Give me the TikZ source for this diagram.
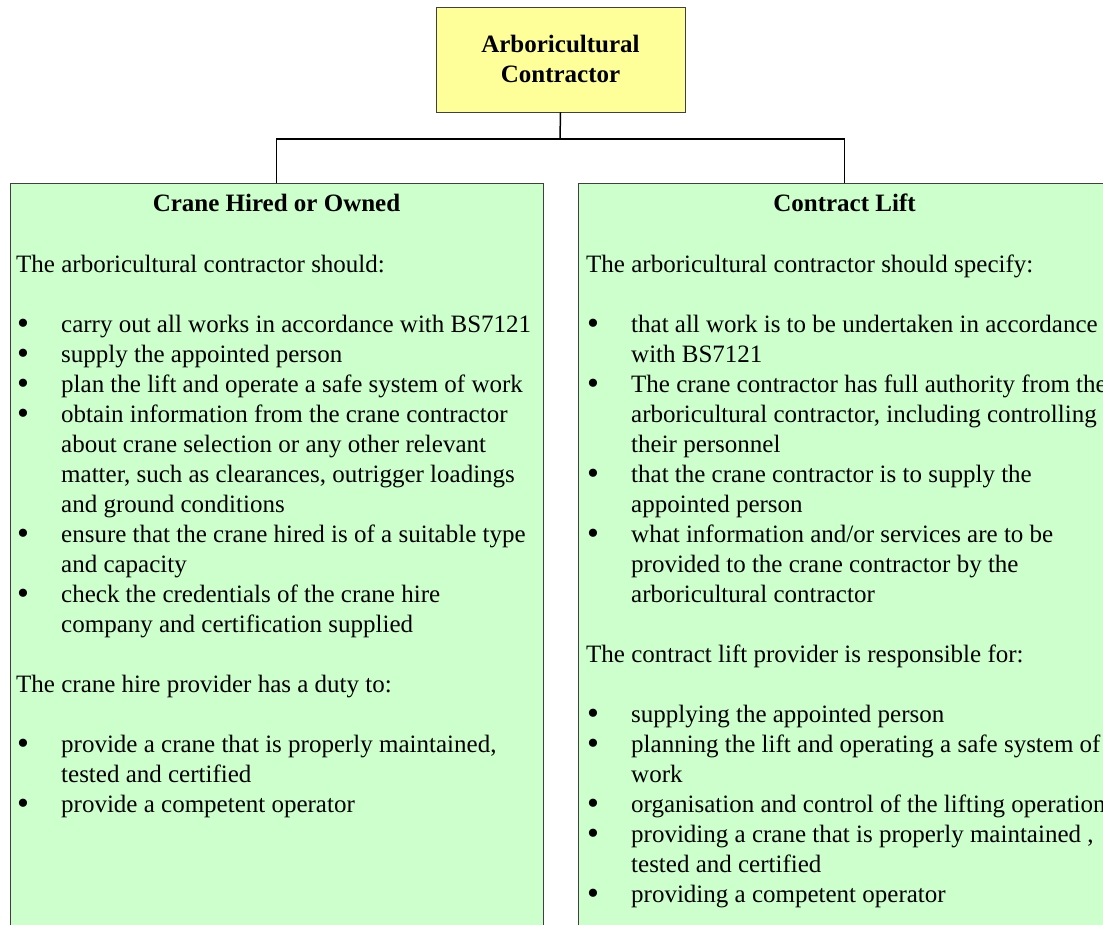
\documentclass[tikz,border=0pt]{standalone}
\usepackage{fontspec}
\setmainfont{Liberation Serif}
\definecolor{boxyellow}{HTML}{FFFF99}
\definecolor{boxgreen}{HTML}{CCFFCC}
\definecolor{boxline}{HTML}{404040}
\newcommand{\bl}{\makebox[45pt][l]{\hspace*{1pt}\raisebox{-2.5pt}{\fontsize{34}{30}\selectfont\textbullet}}}
\newcommand{\ct}{\hspace*{45pt}}
\begin{document}
\begin{tikzpicture}[x=1pt,y=-1pt,
  box/.style={draw=boxline, line width=0.8pt, inner sep=0pt},
  body/.style={anchor=base west, inner sep=0pt, align=left, font=\fontsize{25}{30}\selectfont},
  head/.style={anchor=base, inner sep=0pt, align=center, font=\fontsize{25}{30}\selectfont\bfseries},
  conn/.style={draw=black, line width=1.5pt}]
\useasboundingbox (0,0) rectangle (1103,925);
\clip (0,0) rectangle (1103,925);
% boxes
\node[box, fill=boxyellow, minimum width=249pt, minimum height=105pt] (top) at (560.5,59.5) {};
\node[box, fill=boxgreen, minimum width=533pt, minimum height=770pt] (left) at (276.5,568) {};
\node[box, fill=boxgreen, minimum width=533pt, minimum height=770pt] (right) at (844.5,568) {};
% connectors
\coordinate (bus) at (560,139);
\draw[conn] (top.south) -- (bus);
\draw[conn] (left.north) |- (bus) -| (right.north);
% titles (base anchor = baseline of last line)
\node[head] (toptitle) at (560.5,83) {Arboricultural\\Contractor};
\node[head] (lefthead) at (276.5,212) {Crane Hired or Owned};
\node[head] (righthead) at (844.5,212) {Contract Lift};
% left text
\node[body] (lefttext) at (16,812) {The arboricultural contractor should:\\[30pt]
\bl carry out all works in accordance with BS7121\\
\bl supply the appointed person\\
\bl plan the lift and operate a safe system of work\\
\bl obtain information from the crane contractor\\
\ct about crane selection or any other relevant\\
\ct matter, such as clearances, outrigger loadings\\
\ct and ground conditions\\
\bl ensure that the crane hired is of a suitable type\\
\ct and capacity\\
\bl check the credentials of the crane hire\\
\ct company and certification supplied\\[30pt]
The crane hire provider has a duty to:\\[30pt]
\bl provide a crane that is properly maintained,\\
\ct tested and certified\\
\bl provide a competent operator};
% right text
\node[body] (righttext) at (586,902) {The arboricultural contractor should specify:\\[30pt]
\bl that all work is to be undertaken in accordance\\
\ct with BS7121\\
\bl The crane contractor has full authority from the\\
\ct arboricultural contractor, including controlling\\
\ct their personnel\\
\bl that the crane contractor is to supply the\\
\ct appointed person\\
\bl what information and/or services are to be\\
\ct provided to the crane contractor by the\\
\ct arboricultural contractor\\[30pt]
The contract lift provider is responsible for:\\[30pt]
\bl supplying the appointed person\\
\bl planning the lift and operating a safe system of\\
\ct work\\
\bl organisation and control of the lifting operation\\
\bl providing a crane that is properly maintained ,\\
\ct tested and certified\\
\bl providing a competent operator};
\end{tikzpicture}
\end{document}
